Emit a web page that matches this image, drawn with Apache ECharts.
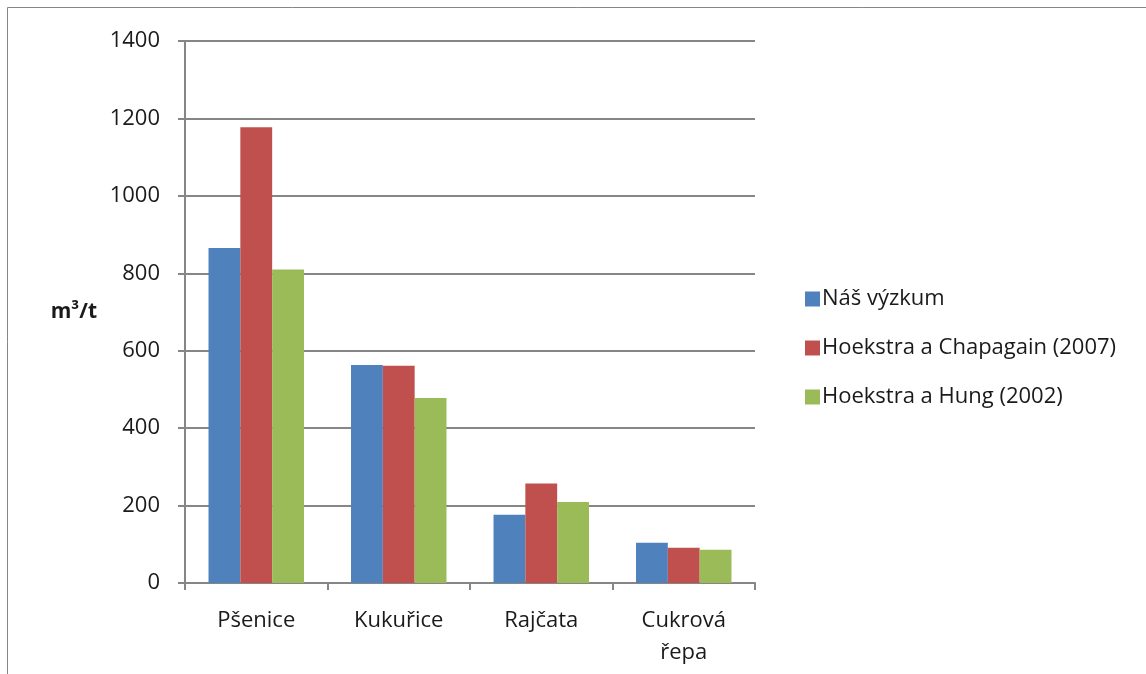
<!DOCTYPE html>
<html>
<head>
<meta charset="utf-8">
<script src="https://cdn.jsdelivr.net/npm/echarts@6/dist/echarts.min.js"></script>
<style>
  html, body { margin: 0; padding: 0; background: #fff; }
  #chart { width: 1146px; height: 674px; }
</style>
</head>
<body>
<div id="chart"></div>
<script>
const categories = ['Pšenice', 'Kukuřice', 'Rajčata', 'Cukrová řepa'];
const seriesNames = ['Náš výzkum', 'Hoekstra a Chapagain (2007)', 'Hoekstra a Hung (2002)'];
const nasVyzkum = [865, 563, 176, 104];
const chapagain = [1177, 561, 257, 91];
const hung = [810, 478, 209, 86];
const yTicks = [0, 200, 400, 600, 800, 1000, 1200, 1400];

const colors = ['#4F81BD', '#C0504D', '#9BBB59'];
const font = '"Open Sans", Lato, sans-serif';
const gray = '#868686';
const textColor = '#1a1a1a';

const chart = echarts.init(document.getElementById('chart'));

const values = [nasVyzkum, chapagain, hung];

const option = {
  animation: false,
  color: colors,
  textStyle: { fontFamily: font },
  graphic: [
    {
      type: 'rect',
      shape: { x: 7.5, y: 7.5, width: 1200, height: 800 },
      style: { fill: 'none', stroke: gray, lineWidth: 1 }
    }
  ],
  grid: {
    left: 185,
    right: 391,
    top: 41,
    bottom: 91
  },
  legend: {
    orient: 'vertical',
    left: 800,
    top: 283,
    itemWidth: 15,
    itemHeight: 15,
    itemGap: 27,
    icon: 'rect',
    textStyle: { fontSize: 22, color: textColor, fontFamily: font, padding: [0, 0, 0, -3] },
    data: seriesNames
  },
  xAxis: {
    type: 'category',
    data: categories,
    axisLine: { lineStyle: { color: gray, width: 2 } },
    axisTick: { show: true, length: 7, inside: false, lineStyle: { color: gray, width: 2 } },
    axisLabel: {
      margin: 22,
      fontSize: 22,
      color: textColor,
      lineHeight: 32,
      formatter: v => v.replace(' ', '\n')
    }
  },
  yAxis: {
    type: 'value',
    min: 0,
    max: 1400,
    interval: 200,
    name: 'm³/t',
    nameLocation: 'middle',
    nameRotate: 0,
    nameGap: 88,
    nameTextStyle: { fontSize: 21, fontWeight: 'bold', color: textColor, fontFamily: font },
    axisLine: { show: true, lineStyle: { color: gray, width: 2 } },
    axisTick: { show: true, length: 7, lineStyle: { color: gray, width: 2 } },
    axisLabel: {
      margin: 25,
      fontSize: 22,
      color: textColor,
      formatter: v => (yTicks.indexOf(v) >= 0 ? String(v) : '')
    },
    splitLine: { lineStyle: { color: gray, width: 2 } }
  },
  series: seriesNames.map((name, i) => ({
    name: name,
    type: 'bar',
    data: values[i],
    barGap: '0%',
    barCategoryGap: '33%',
    itemStyle: { color: colors[i] }
  }))
};

chart.setOption(option);
</script>
</body>
</html>
